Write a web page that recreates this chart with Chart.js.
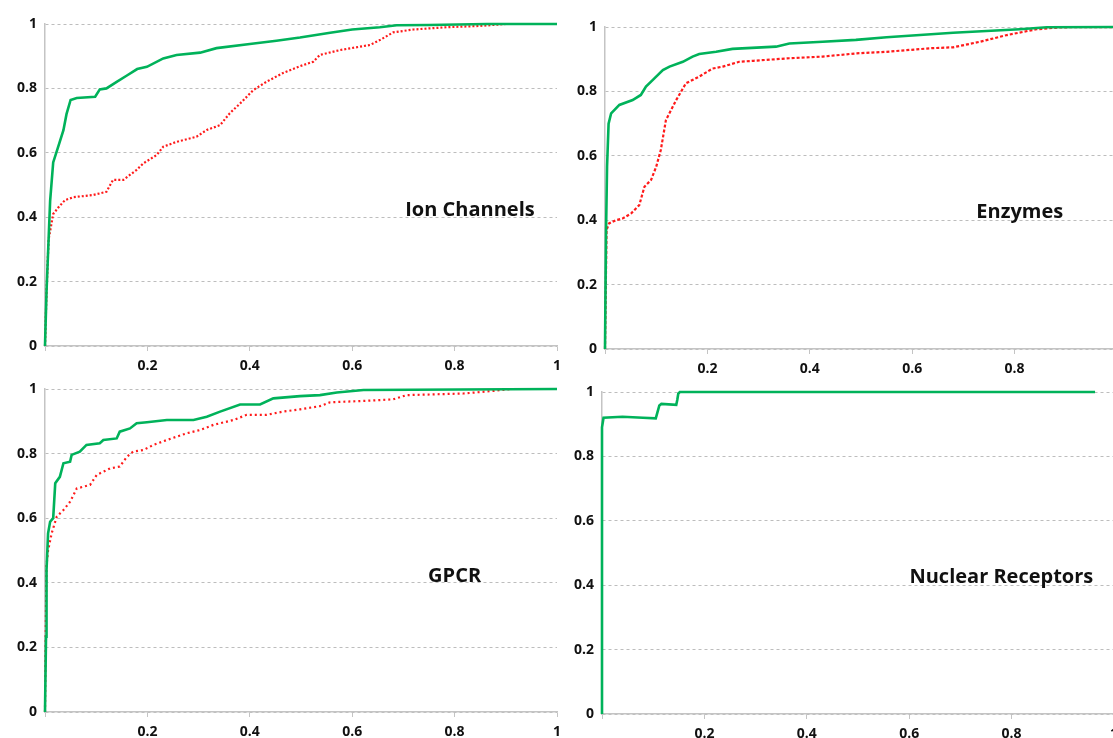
<!DOCTYPE html>
<html>
<head>
<meta charset="utf-8">
<script src="https://cdn.jsdelivr.net/npm/chart.js@4.4.1/dist/chart.umd.min.js"></script>
<style>
  html, body { margin: 0; padding: 0; background: #fff; overflow: hidden; width: 1113px; height: 738px; }
  .panel { position: absolute; }
</style>
</head>
<body>
<canvas id="ionChart" class="panel"></canvas>
<canvas id="enzChart" class="panel"></canvas>
<canvas id="gpcrChart" class="panel"></canvas>
<canvas id="nrChart" class="panel"></canvas>
<script>
// --- data ---
const xTicks = [0, 0.2, 0.4, 0.6, 0.8, 1];
const yTicks = [0, 0.2, 0.4, 0.6, 0.8, 1];
const panelTitles = ['Ion Channels', 'Enzymes', 'GPCR', 'Nuclear Receptors'];

// Ion Channels
const ionGreenX = [0, 0.003, 0.01, 0.016, 0.026, 0.036, 0.042, 0.05, 0.062, 0.098, 0.107, 0.12, 0.14, 0.16, 0.18, 0.199, 0.231, 0.257, 0.303, 0.335, 0.40, 0.452, 0.498, 0.557, 0.60, 0.654, 0.687, 0.75, 0.863, 1];
const ionGreenY = [0, 0.17, 0.45, 0.57, 0.62, 0.67, 0.72, 0.764, 0.77, 0.774, 0.797, 0.80, 0.82, 0.84, 0.86, 0.867, 0.893, 0.904, 0.911, 0.925, 0.938, 0.948, 0.958, 0.973, 0.983, 0.99, 0.996, 0.997, 1, 1];
const ionRedX = [0, 0.003, 0.007, 0.016, 0.026, 0.039, 0.055, 0.094, 0.12, 0.133, 0.153, 0.179, 0.192, 0.218, 0.231, 0.257, 0.296, 0.316, 0.342, 0.361, 0.381, 0.407, 0.433, 0.465, 0.498, 0.524, 0.537, 0.576, 0.635, 0.654, 0.68, 0.72, 0.785, 0.85, 0.90, 1];
const ionRedY = [0, 0.17, 0.33, 0.41, 0.43, 0.453, 0.462, 0.469, 0.479, 0.516, 0.516, 0.547, 0.567, 0.593, 0.619, 0.634, 0.65, 0.671, 0.686, 0.723, 0.753, 0.795, 0.821, 0.848, 0.869, 0.883, 0.904, 0.919, 0.935, 0.95, 0.974, 0.983, 0.99, 0.994, 1, 1];

// Enzymes
const enzGreenX = [0, 0.002, 0.004, 0.007, 0.012, 0.028, 0.054, 0.07, 0.08, 0.093, 0.113, 0.126, 0.152, 0.171, 0.184, 0.217, 0.249, 0.334, 0.36, 0.425, 0.49, 0.55, 0.68, 0.81, 0.863, 1];
const enzGreenY = [0, 0.36, 0.566, 0.70, 0.732, 0.758, 0.773, 0.789, 0.815, 0.835, 0.866, 0.877, 0.892, 0.908, 0.916, 0.923, 0.932, 0.939, 0.949, 0.954, 0.96, 0.968, 0.982, 0.993, 0.999, 1];
const enzRedX = [0, 0.003, 0.008, 0.021, 0.034, 0.051, 0.067, 0.077, 0.09, 0.10, 0.109, 0.119, 0.139, 0.158, 0.184, 0.21, 0.23, 0.262, 0.29, 0.36, 0.425, 0.49, 0.55, 0.635, 0.68, 0.732, 0.785, 0.843, 0.889, 1];
const enzRedY = [0, 0.37, 0.39, 0.40, 0.405, 0.421, 0.447, 0.504, 0.525, 0.566, 0.618, 0.711, 0.773, 0.825, 0.846, 0.871, 0.877, 0.892, 0.895, 0.903, 0.908, 0.918, 0.923, 0.934, 0.937, 0.954, 0.975, 0.993, 0.999, 1];

// GPCR
const gpcrGreenX = [0, 0.002, 0.003, 0.006, 0.01, 0.016, 0.02, 0.029, 0.036, 0.049, 0.052, 0.068, 0.081, 0.107, 0.114, 0.14, 0.146, 0.166, 0.179, 0.199, 0.238, 0.29, 0.316, 0.342, 0.381, 0.42, 0.446, 0.498, 0.537, 0.57, 0.622, 1];
const gpcrGreenY = [0, 0.233, 0.44, 0.553, 0.589, 0.60, 0.708, 0.728, 0.77, 0.775, 0.796, 0.806, 0.827, 0.832, 0.842, 0.847, 0.868, 0.878, 0.894, 0.897, 0.904, 0.904, 0.914, 0.93, 0.952, 0.952, 0.971, 0.978, 0.981, 0.989, 0.997, 1];
const gpcrRedX = [0, 0.002, 0.003, 0.006, 0.013, 0.023, 0.036, 0.049, 0.062, 0.088, 0.101, 0.127, 0.146, 0.16, 0.172, 0.192, 0.212, 0.238, 0.277, 0.303, 0.329, 0.368, 0.394, 0.433, 0.465, 0.498, 0.537, 0.557, 0.622, 0.68, 0.706, 0.817, 0.882, 0.908, 1];
const gpcrRedY = [0, 0.33, 0.454, 0.50, 0.553, 0.605, 0.625, 0.651, 0.692, 0.703, 0.734, 0.754, 0.76, 0.79, 0.806, 0.811, 0.827, 0.842, 0.863, 0.873, 0.889, 0.904, 0.92, 0.92, 0.93, 0.937, 0.947, 0.959, 0.963, 0.968, 0.981, 0.986, 0.995, 1, 1];

// Nuclear Receptors
const nrGreenX = [0, 0, 0.003, 0.04, 0.08, 0.105, 0.108, 0.112, 0.116, 0.145, 0.147, 0.149, 0.152, 0.16, 0.963];
const nrGreenY = [0, 0.89, 0.92, 0.923, 0.92, 0.918, 0.935, 0.958, 0.963, 0.96, 0.975, 0.995, 1, 1, 1];

// where each panel's label sits, in data units
const titleX = [0.83, 0.81, 0.80, 0.78];
const titleY = [0.42, 0.425, 0.42, 0.425];

const GREEN = '#00b25a';
const RED = '#ff1a1a';
const GRID = '#c4c4c4';
const FONT = "'Open Sans', 'Liberation Sans', sans-serif";

function toPoints(xs, ys) {
    return xs.map(function (x, i) { return { x: x, y: ys[i] }; });
}

const panelTitlePlugin = {
    id: 'panelTitle',
    afterDatasetsDraw: function (chart, args, opts) {
        const ctx = chart.ctx;
        const px = chart.scales.x.getPixelForValue(opts.x);
        const py = chart.scales.y.getPixelForValue(opts.y);
        ctx.save();
        ctx.font = 'bold 20px ' + FONT;
        ctx.fillStyle = '#111';
        ctx.textAlign = 'center';
        ctx.textBaseline = 'middle';
        ctx.fillText(opts.text, px, py);
        ctx.restore();
    }
};

// box: canvas left/top, plot area left/top/right/bottom in page pixels
function makePanel(id, box, datasets, idx) {
    const el = document.getElementById(id);
    const w = box.right - box.left + 12;
    const h = box.areaBottom - box.top + 30;
    el.style.left = box.left + 'px';
    el.style.top = box.top + 'px';
    el.style.width = w + 'px';
    el.style.height = h + 'px';
    el.width = w;
    el.height = h;

    return new Chart(el.getContext('2d'), {
        type: 'line',
        data: { datasets: datasets },
        options: {
            responsive: false,
            animation: false,
            maintainAspectRatio: false,
            layout: { padding: { top: box.areaTop - box.top, right: w - (box.right - box.left), left: 0, bottom: 0 } },
            elements: { point: { radius: 0 } },
            scales: {
                x: {
                    type: 'linear',
                    min: 0,
                    max: 1,
                    afterBuildTicks: function (axis) { axis.ticks = xTicks.map(function (v) { return { value: v }; }); },
                    afterFit: function (axis) { axis.height = h - (box.areaBottom - box.top); },
                    ticks: {
                        autoSkip: false,
                        maxRotation: 0,
                        padding: 7,
                        color: '#111',
                        font: { family: FONT, size: 14, weight: 'bold' },
                        callback: function (v) { return v === 0 ? '' : String(v); }
                    },
                    grid: { drawOnChartArea: false, drawTicks: true, tickLength: 5, color: GRID },
                    border: { color: GRID, width: 1.5 }
                },
                y: {
                    min: 0,
                    max: 1,
                    afterBuildTicks: function (axis) { axis.ticks = yTicks.map(function (v) { return { value: v }; }); },
                    afterFit: function (axis) { axis.width = box.areaLeft - box.left; },
                    ticks: {
                        padding: 8,
                        color: '#111',
                        font: { family: FONT, size: 14, weight: 'bold' },
                        callback: function (v) { return String(v); }
                    },
                    grid: { color: '#bdbdbd', lineWidth: 1, drawTicks: false, tickLength: 0 },
                    border: { color: GRID, width: 1.5, dash: [3, 3] }
                }
            },
            plugins: {
                legend: { display: false },
                tooltip: { enabled: false },
                panelTitle: { text: panelTitles[idx], x: titleX[idx], y: titleY[idx] }
            }
        },
        plugins: [panelTitlePlugin]
    });
}

function greenSet(xs, ys) {
    return { data: toPoints(xs, ys), borderColor: GREEN, borderWidth: 2.6, tension: 0, clip: false, order: 1 };
}
function redSet(xs, ys, dash) {
    return { data: toPoints(xs, ys), borderColor: RED, borderWidth: 2.2, borderDash: dash, tension: 0, clip: false, order: 2 };
}

document.addEventListener('DOMContentLoaded', function () {
    makePanel('ionChart', { left: 0, top: 0, areaLeft: 45, areaTop: 24, right: 557, areaBottom: 346 },
        [redSet(ionRedX, ionRedY, [2, 2]), greenSet(ionGreenX, ionGreenY)], 0);
    makePanel('enzChart', { left: 560, top: 0, areaLeft: 605, areaTop: 27, right: 1117, areaBottom: 349 },
        [redSet(enzRedX, enzRedY, [3, 2]), greenSet(enzGreenX, enzGreenY)], 1);
    makePanel('gpcrChart', { left: 0, top: 372, areaLeft: 45, areaTop: 389, right: 557, areaBottom: 712 },
        [redSet(gpcrRedX, gpcrRedY, [2, 3]), greenSet(gpcrGreenX, gpcrGreenY)], 2);
    makePanel('nrChart', { left: 557, top: 372, areaLeft: 602, areaTop: 392, right: 1114, areaBottom: 714 },
        [greenSet(nrGreenX, nrGreenY)], 3);
});
</script>
</body>
</html>
